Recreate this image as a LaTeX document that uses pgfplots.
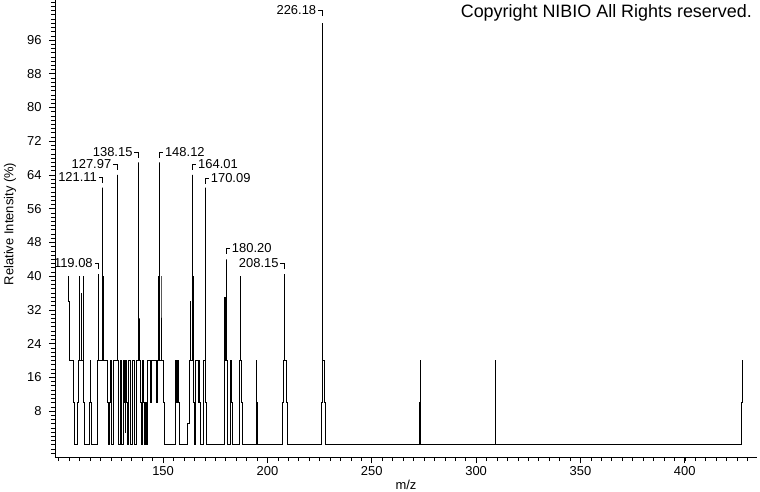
\documentclass[border=0pt]{standalone}
\usepackage{pgfplots}
\pgfplotsset{compat=1.18}
\usepackage{fontspec}
\setmainfont{Liberation Sans}
\newcommand{\lblfont}{\fontsize{13}{15}\selectfont}
\newcommand{\lablL}[3]{\draw[line width=0.75pt] (axis cs:#1,#2) ++(0pt,-6bp) -- ++(0pt,6bp) -- ++(-4bp,0pt) node[anchor=east,inner sep=1.5bp,font=\lblfont]{#3};}
\newcommand{\lablR}[3]{\draw[line width=0.75pt] (axis cs:#1,#2) ++(0pt,-6bp) -- ++(0pt,6bp) -- ++(4bp,0pt) node[anchor=west,inner sep=1.5bp,font=\lblfont]{#3};}
\begin{document}
\begin{tikzpicture}
\begin{axis}[
  at={(0,0)}, anchor=south west,
  scale only axis, width=702bp, height=457bp,
  xmin=98.2, xmax=434.6, ymin=-2.9, ymax=105.5,
  axis x line*=bottom, axis y line*=left,
  axis line style={line width=0.75pt, -},
  xtick={150,200,...,400}, ytick={8,16,...,96},
  minor xtick={100,105,...,430}, minor ytick={-2,-1,...,105},
  tick align=outside, major tick length=6bp, minor tick length=4bp,
  every tick/.style={black, line width=0.7pt},
  every minor tick/.style={black, line width=0.6pt},
  ticklabel style={font=\lblfont},
  yticklabel style={xshift=-4bp},
  /pgf/number format/assume math mode=true,
  xlabel={m/z}, ylabel={Relative Intensity (\%)},
  label style={font=\lblfont},
  xlabel style={at={(axis description cs:0.5,-0.0613)}, anchor=center},
  ylabel style={at={(axis description cs:-0.0641,0.51)}, anchor=center},
  clip=false,
]
\addplot[black, line width=0.75pt, mark=none] coordinates {
(104.8,40)(104.8,34)(105.1,34)(105.1,24)(105.3,24)(105.3,20)(106.9,20)(106.9,10)(107.3,10)(107.3,0)(108.9,0)(108.9,10)(109.3,10)(109.3,20)(110.1,20)(110.1,40)(110.1,20)(110.6,20)(110.6,36)(110.8,36)(110.8,25)(111.0,25)(111.0,20)(111.6,20)(111.6,40)(111.6,20)(112.0,20)(112.0,10)(112.4,10)(112.4,0)(114.9,0)(114.9,10)(115.1,10)(115.1,20)(115.3,20)(115.3,10)(115.6,10)(115.6,0)(118.4,0)(118.4,20)(119.08,20)(119.08,40.5)(119.08,20)(121.11,20)(121.11,61)(121.11,20)(121.6,20)(121.6,40)(121.6,20)(123.4,20)(123.4,10)(123.7,10)(123.7,0)
(124.3,0)(124.3,10)(124.5,10)(124.5,20)(125.1,20)(125.1,10)(125.4,10)(125.4,0)(126.4,0)(126.4,20)(127.97,20)(127.97,64)(127.97,20)(128.4,20)(128.4,10)(128.7,10)(128.7,0)(129.4,0)(129.4,20)(129.9,20)(129.9,10)(130.2,10)(130.2,0)(131.0,0)(131.0,20)(131.6,20)(131.6,10)(131.8,10)(131.8,3)(132.0,3)(132.0,20)(132.6,20)(132.6,10)(132.9,10)(132.9,0)(133.6,0)(133.6,20)(134.3,20)(134.3,10)(134.5,10)(134.5,0)(135.4,0)(135.4,20)(136.1,20)(136.1,10)(136.4,10)(136.4,0)(137.2,0)(137.2,20)(138.15,20)(138.15,67)(138.15,20)(138.5,20)(138.5,30)(138.5,20)(139.3,20)(139.3,10)(139.5,10)(139.5,0)(140.2,0)(140.2,20)(140.7,20)(140.7,10)(140.9,10)(140.9,0)(141.6,0)(141.6,10)(141.8,10)(141.8,0)(142.3,0)(142.3,20)
(144.0,20)(144.0,10)(144.2,10)(144.2,20)(146.9,20)(146.9,10)(147.1,10)(147.1,20)(147.6,20)(147.6,40)(147.6,20)(148.12,20)(148.12,67)(148.12,20)(149.0,20)(149.0,40)(149.0,20)(149.9,20)(149.9,10)(150.4,10)(150.4,0)(155.7,0)(155.7,10)(156.0,10)(156.0,20)(156.6,20)(156.6,10)(156.8,10)(156.8,20)(157.4,20)(157.4,10)(157.6,10)(157.6,0)(161.6,0)(161.6,5)(162.4,5)(162.4,20)(163.0,20)(163.0,34)(163.3,34)(163.3,20)(164.01,20)(164.01,64)(164.01,20)(164.3,20)(164.3,40)(164.3,20)(164.6,20)(164.6,10)(164.9,10)(164.9,0)(165.3,0)(165.3,20)(166.8,20)(166.8,10)(167.1,10)(167.1,20)(167.6,20)(167.6,10)(167.9,10)(167.9,0)(169.3,0)(169.3,20)(170.09,20)(170.09,61)(170.09,20)(170.4,20)(170.4,10)(170.6,10)(170.6,0)
(179.3,0)(179.3,20)(179.6,20)(179.6,35)(179.9,35)(179.9,20)(180.2,20)(180.2,44)(180.2,20)(180.6,20)(180.6,10)(181.0,10)(181.0,0)(182.0,0)(182.0,20)(182.9,20)(182.9,10)(183.3,10)(183.3,0)(186.6,0)(186.6,20)(186.9,20)(186.9,40)(186.9,20)(187.6,20)(187.6,10)(187.9,10)(187.9,0)(194.6,0)(194.6,10)(194.8,10)(194.8,20)(194.9,20)(194.9,10)(195.1,10)(195.1,0)(207.3,0)(207.3,10)(207.5,10)(207.5,20)(208.15,20)(208.15,40.5)(208.15,20)(209.2,20)(209.2,10)(209.5,10)(209.5,0)
(226.0,0)(226.0,10)(226.1,10)(226.1,20)(226.18,20)(226.18,100)(226.18,20)(227.5,20)(227.5,10)(227.8,10)(227.8,0)(273.0,0)(273.0,10)(273.3,10)(273.3,20)(273.5,20)(273.5,0)(309.0,0)(309.0,10)(309.2,10)(309.2,20)(309.4,20)(309.4,0)(427.3,0)(427.3,10)(427.6,10)(427.6,20)
};
\lablL{226.18}{103.1}{226.18}
\lablL{138.15}{69.4}{138.15}
\lablR{148.12}{69.4}{148.12}
\lablL{127.97}{66.6}{127.97}
\lablR{164.01}{66.6}{164.01}
\lablL{121.11}{63.5}{121.11}
\lablR{170.09}{63.3}{170.09}
\lablR{180.2}{46.7}{180.20}
\lablL{119.08}{43.1}{119.08}
\lablL{208.15}{43.1}{208.15}
\node[anchor=east, inner sep=0pt, font=\fontsize{18}{21}\selectfont] at (axis description cs:0.9929,0.9716) {Copyright NIBIO All Rights reserved.};
\end{axis}
\pgfresetboundingbox
\path (-55bp,-35bp) rectangle (705bp,457bp);
\end{tikzpicture}
\end{document}
